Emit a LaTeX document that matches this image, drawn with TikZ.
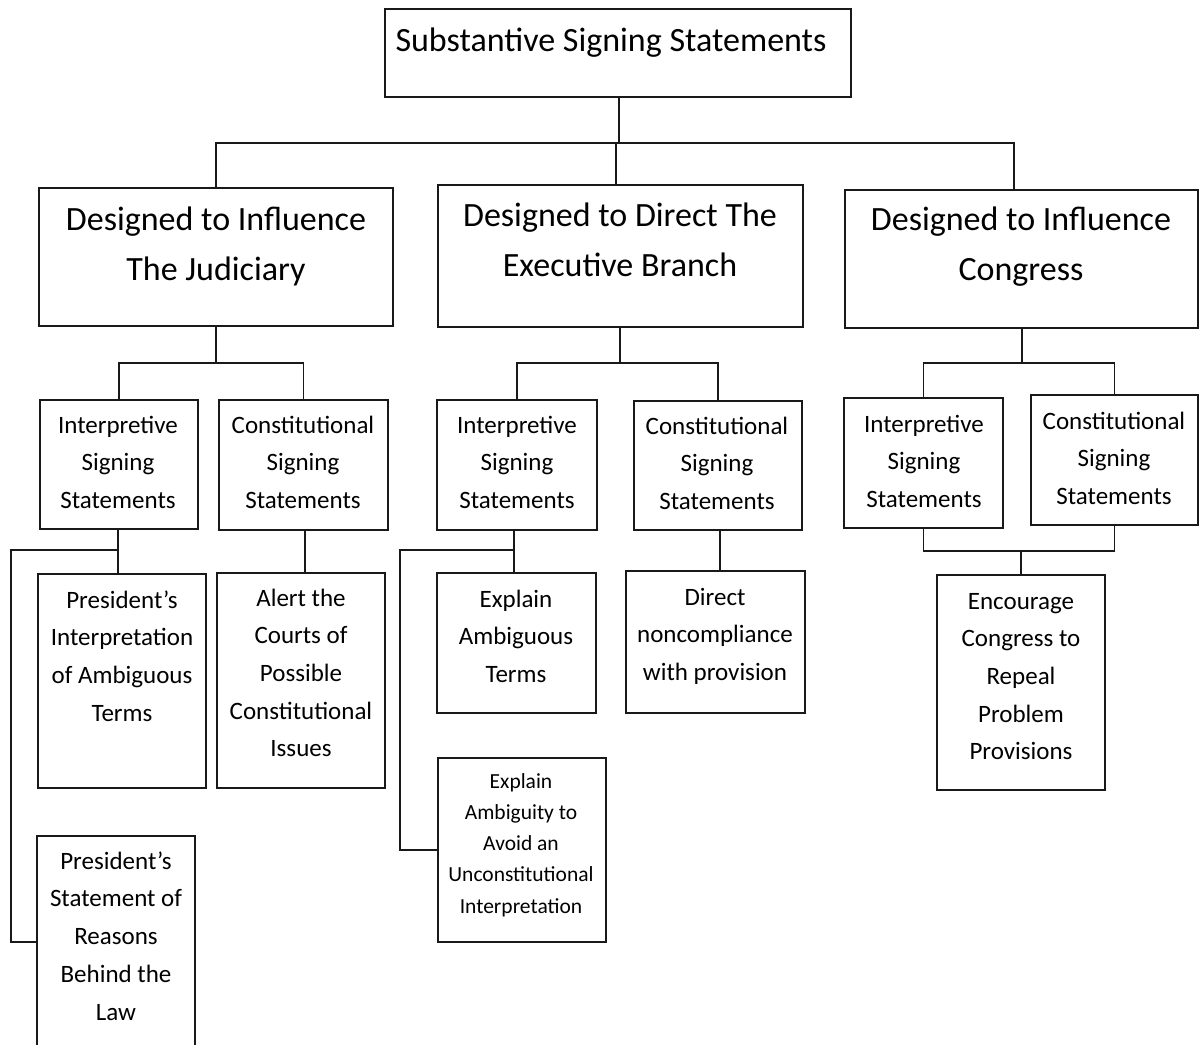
\documentclass[tikz,border=0pt]{standalone}
\usepackage{fontspec}
\setmainfont{Carlito}
\begin{document}
\begin{tikzpicture}[x=1pt,y=-1pt,
  box/.style={draw=black!90, line width=1.6pt, inner sep=0pt, minimum width=#1},
  tl/.style={align=center, inner sep=0pt, anchor=north, font=\fontsize{34}{50}\selectfont},
  ts/.style={align=center, inner sep=0pt, anchor=north, font=\fontsize{25}{37.7}\selectfont},
  tx/.style={align=center, inner sep=0pt, anchor=north, font=\fontsize{21.5}{31.25}\selectfont},
  conn/.style={draw=black!90, line width=1.6pt}]
\useasboundingbox (0,0) rectangle (1199,1044);
\clip (0,0) rectangle (1199,1044);
\fill[white] (0,0) rectangle (1199,1044);
% boxes
\node[box=466, minimum height=88] (top) at (618,53) {};
\node[box=354, minimum height=138] (L) at (216,257) {};
\node[box=365, minimum height=142] (M) at (620.5,256) {};
\node[box=353, minimum height=138] (R) at (1021.5,259) {};
\node[box=158, minimum height=129] (LI) at (119,464.5) {};
\node[box=169, minimum height=130] (LC) at (303.5,465) {};
\node[box=160, minimum height=130] (MI) at (517,465) {};
\node[box=168, minimum height=129] (MC) at (718,465.5) {};
\node[box=159, minimum height=130] (RI) at (923.5,463) {};
\node[box=167, minimum height=130] (RC) at (1114.5,460) {};
\node[box=168, minimum height=214] (PI) at (122,681) {};
\node[box=168, minimum height=215] (AL) at (301,680.5) {};
\node[box=158, minimum height=212] (PS) at (116,942) {};
\node[box=159, minimum height=140] (EA) at (516.5,643) {};
\node[box=179, minimum height=142] (DN) at (715.5,642) {};
\node[box=168, minimum height=184] (EU) at (522,850) {};
\node[box=168, minimum height=215] (EN) at (1021,682.5) {};
% texts
\node[tl] (ttop) at (611,16) {\strut Substantive Signing Statements};
\node[tl] (tL) at (216,195) {\strut Designed to Influence\\The Judiciary};
\node[tl] (tM) at (620,191) {\strut Designed to Direct The\\Executive Branch};
\node[tl] (tR) at (1021,195) {\strut Designed to Influence\\Congress};
\node[ts] (tLI) at (118,406.6) {\strut Interpretive\\Signing\\Statements};
\node[ts] (tLC) at (303,406.6) {\strut Constitutional\\Signing\\Statements};
\node[ts] (tMI) at (517,406.6) {\strut Interpretive\\Signing\\Statements};
\node[ts] (tMC) at (717,407.6) {\strut Constitutional\\Signing\\Statements};
\node[ts] (tRI) at (924,405.6) {\strut Interpretive\\Signing\\Statements};
\node[ts] (tRC) at (1114,402.6) {\strut Constitutional\\Signing\\Statements};
\node[ts] (tPI) at (122,581.6) {\strut President’s\\Interpretation\\of Ambiguous\\Terms};
\node[ts] (tAL) at (301,579.6) {\strut Alert the\\Courts of\\Possible\\Constitutional\\Issues};
\node[ts] (tPS) at (116,842.6) {\strut President’s\\Statement of\\Reasons\\Behind the\\Law};
\node[ts] (tEA) at (516,580.6) {\strut Explain\\Ambiguous\\Terms};
\node[ts] (tDN) at (715,578.6) {\strut Direct\\noncompliance\\with provision};
\node[ts] (tEN) at (1021,582.6) {\strut Encourage\\Congress to\\Repeal\\Problem\\Provisions};
\node[tx] (tEU) at (521,766.1) {\strut Explain\\Ambiguity to\\Avoid an\\Unconstitutional\\Interpretation};
% connectors level 1
\coordinate (h1) at (619,143);
\draw[conn] ([xshift=1]top.south) -- ([xshift=1]top.south |- h1);
\draw[conn] (L.north) |- ([xshift=-7.5]R.north |- h1) -- ([xshift=-7.5]R.north);
\draw[conn] ([xshift=-4.5]M.north |- h1) -- ([xshift=-4.5]M.north);
% level 2
\coordinate (h2) at (0,363);
\draw[conn] (L.south) -- (L.south |- h2);
\draw[conn] (LI.north) |- (LC.north |- h2) -- (LC.north);
\draw[conn] ([xshift=-0.5]M.south) -- ([xshift=-0.5]M.south |- h2);
\draw[conn] (MI.north) |- (MC.north |- h2) -- (MC.north);
\draw[conn] ([xshift=0.5]R.south) -- ([xshift=0.5]R.south |- h2);
\draw[conn] (RI.north) |- (RC.north |- h2) -- (RC.north);
% level 3 left
\coordinate (cL) at (11,550);
\draw[conn] ([xshift=-1]LI.south) -- ([xshift=-1]LI.south |- PI.north);
\draw[conn] ([xshift=-1]LI.south |- cL) -- (cL) |- (PS.west);
\draw[conn] ([xshift=1.5]LC.south) -- ([xshift=1.5]LC.south |- AL.north);
% level 3 middle
\coordinate (cM) at (400,550);
\draw[conn] ([xshift=-3]MI.south) -- ([xshift=-3]MI.south |- EA.north);
\draw[conn] ([xshift=-3]MI.south |- cM) -- (cM) |- (EU.west);
\draw[conn] ([xshift=2]MC.south) -- ([xshift=2]MC.south |- DN.north);
% level 3 right
\coordinate (cR) at (1021,551);
\draw[conn] (RI.south) |- (RC.south |- cR) -- (RC.south);
\draw[conn] (cR) -- (EN.north);
\end{tikzpicture}
\end{document}
